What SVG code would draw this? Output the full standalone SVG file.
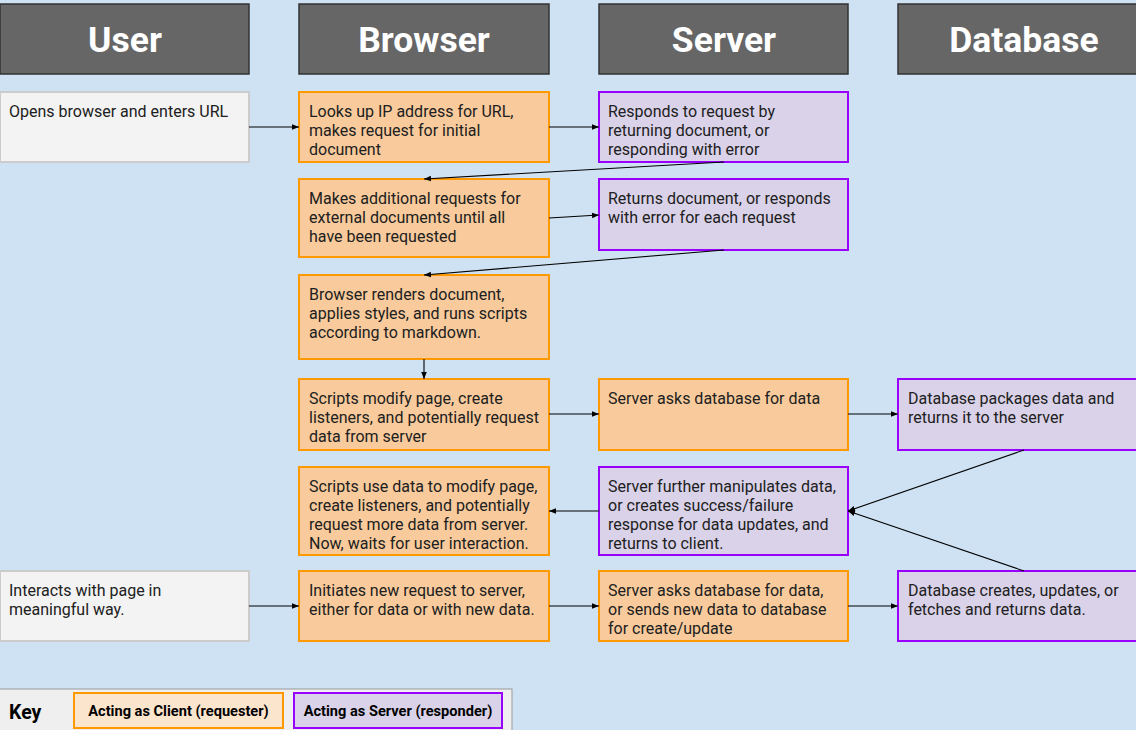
<svg xmlns="http://www.w3.org/2000/svg" width="1136" height="730" viewBox="0 0 1136 730">
<defs>
<marker id="ah" viewBox="0 0 10 10" refX="10" refY="5" markerWidth="7" markerHeight="7" orient="auto" markerUnits="userSpaceOnUse">
<path d="M0,1 L10,5 L0,9 Z" fill="#000"/>
</marker>
<style>
.hd rect{fill:#666666;stroke:#333333;stroke-width:1.5}
.hd text{fill:#ffffff;font-family:Roboto,"Liberation Sans",sans-serif;font-weight:bold;font-size:35.5px;text-anchor:middle}
.u{fill:#f3f3f3;stroke:#cccccc;stroke-width:2}
.c{fill:#f9cb9c;stroke:#ff9900;stroke-width:2}
.s{fill:#d9d2e9;stroke:#9900ff;stroke-width:2}
.t{font-family:Roboto,"Liberation Sans",sans-serif;font-size:16px;fill:#202020}
.cn line{stroke:#000;stroke-width:1.1;marker-end:url(#ah)}
.k{font-family:Roboto,"Liberation Sans",sans-serif;font-weight:bold;fill:#000}
</style>
</defs>
<rect x="0" y="0" width="1136" height="730" fill="#cfe2f3"/>

<g id="h-user" class="hd"><rect x="0" y="4" width="249" height="70"/><text x="125" y="52">User</text></g>
<g id="h-browser" class="hd"><rect x="299" y="4" width="250" height="70"/><text x="424" y="52">Browser</text></g>
<g id="h-server" class="hd"><rect x="599" y="4" width="249" height="70"/><text x="724" y="52">Server</text></g>
<g id="h-database" class="hd"><rect x="898" y="4" width="250" height="70"/><text x="1024" y="52">Database</text></g>

<g id="n-u1"><rect class="u" x="0" y="92" width="249" height="70"/><text class="t" x="9" y="117">Opens browser and enters URL</text></g>
<g id="n-b1"><rect class="c" x="299" y="92" width="250" height="70"/><text class="t" x="309" y="117"><tspan x="309">Looks up IP address for URL,</tspan><tspan x="309" dy="19">makes request for initial</tspan><tspan x="309" dy="19">document</tspan></text></g>
<g id="n-s1"><rect class="s" x="599" y="92" width="249" height="70"/><text class="t" x="608" y="117"><tspan x="608">Responds to request by</tspan><tspan x="608" dy="19">returning document, or</tspan><tspan x="608" dy="19">responding with error</tspan></text></g>

<g id="n-b2"><rect class="c" x="299" y="179" width="250" height="78"/><text class="t" x="309" y="204"><tspan x="309">Makes additional requests for</tspan><tspan x="309" dy="19">external documents until all</tspan><tspan x="309" dy="19">have been requested</tspan></text></g>
<g id="n-s2"><rect class="s" x="599" y="179" width="249" height="71"/><text class="t" x="608" y="204"><tspan x="608">Returns document, or responds</tspan><tspan x="608" dy="19">with error for each request</tspan></text></g>

<g id="n-b3"><rect class="c" x="299" y="275" width="250" height="84"/><text class="t" x="309" y="300"><tspan x="309">Browser renders document,</tspan><tspan x="309" dy="19">applies styles, and runs scripts</tspan><tspan x="309" dy="19">according to markdown.</tspan></text></g>

<g id="n-b4"><rect class="c" x="299" y="379" width="250" height="71"/><text class="t" x="309" y="404"><tspan x="309">Scripts modify page, create</tspan><tspan x="309" dy="19">listeners, and potentially request</tspan><tspan x="309" dy="19">data from server</tspan></text></g>
<g id="n-s4"><rect class="c" x="599" y="379" width="249" height="71"/><text class="t" x="608" y="404">Server asks database for data</text></g>
<g id="n-d4"><rect class="s" x="898" y="379" width="250" height="71"/><text class="t" x="908" y="404"><tspan x="908">Database packages data and</tspan><tspan x="908" dy="19">returns it to the server</tspan></text></g>

<g id="n-b5"><rect class="c" x="299" y="467" width="250" height="88"/><text class="t" x="309" y="492"><tspan x="309">Scripts use data to modify page,</tspan><tspan x="309" dy="19">create listeners, and potentially</tspan><tspan x="309" dy="19">request more data from server.</tspan><tspan x="309" dy="19">Now, waits for user interaction.</tspan></text></g>
<g id="n-s5"><rect class="s" x="599" y="467" width="249" height="88"/><text class="t" x="608" y="492"><tspan x="608">Server further manipulates data,</tspan><tspan x="608" dy="19">or creates success/failure</tspan><tspan x="608" dy="19">response for data updates, and</tspan><tspan x="608" dy="19">returns to client.</tspan></text></g>

<g id="n-u6"><rect class="u" x="0" y="571" width="249" height="70"/><text class="t" x="9" y="596"><tspan x="9">Interacts with page in</tspan><tspan x="9" dy="19">meaningful way.</tspan></text></g>
<g id="n-b6"><rect class="c" x="299" y="571" width="250" height="70"/><text class="t" x="309" y="596"><tspan x="309">Initiates new request to server,</tspan><tspan x="309" dy="19">either for data or with new data.</tspan></text></g>
<g id="n-s6"><rect class="c" x="599" y="571" width="249" height="70"/><text class="t" x="608" y="596"><tspan x="608">Server asks database for data,</tspan><tspan x="608" dy="19">or sends new data to database</tspan><tspan x="608" dy="19">for create/update</tspan></text></g>
<g id="n-d6"><rect class="s" x="898" y="571" width="250" height="70"/><text class="t" x="908" y="596"><tspan x="908">Database creates, updates, or</tspan><tspan x="908" dy="19">fetches and returns data.</tspan></text></g>

<g id="connectors" class="cn">
<line x1="249" y1="127" x2="299" y2="127"/>
<line x1="549" y1="127" x2="599" y2="127"/>
<line x1="724" y1="162" x2="424" y2="179"/>
<line x1="549" y1="218" x2="599" y2="215"/>
<line x1="724" y1="250" x2="424" y2="275"/>
<line x1="424" y1="359" x2="424" y2="379"/>
<line x1="549" y1="414" x2="599" y2="414"/>
<line x1="848" y1="414" x2="898" y2="414"/>
<line x1="1024" y1="450" x2="848" y2="511"/>
<line x1="1024" y1="571" x2="848" y2="511"/>
<line x1="599" y1="511" x2="549" y2="511"/>
<line x1="249" y1="606" x2="299" y2="606"/>
<line x1="549" y1="606" x2="599" y2="606"/>
<line x1="848" y1="606" x2="898" y2="606"/>
</g>

<g id="key">
<rect x="-1" y="689" width="513" height="45" fill="#efefef" stroke="#999999" stroke-width="1"/>
<text class="k" x="9" y="719" font-size="19.5">Key</text>
<rect x="74" y="693" width="209" height="35" fill="#fce5cd" stroke="#ff9900" stroke-width="2"/>
<text class="k" x="178.5" y="716" font-size="14.6" text-anchor="middle">Acting as Client (requester)</text>
<rect x="294" y="693" width="208" height="35" fill="#d9d2e9" stroke="#9900ff" stroke-width="2"/>
<text class="k" x="398" y="716" font-size="14.6" text-anchor="middle">Acting as Server (responder)</text>
</g>
</svg>
